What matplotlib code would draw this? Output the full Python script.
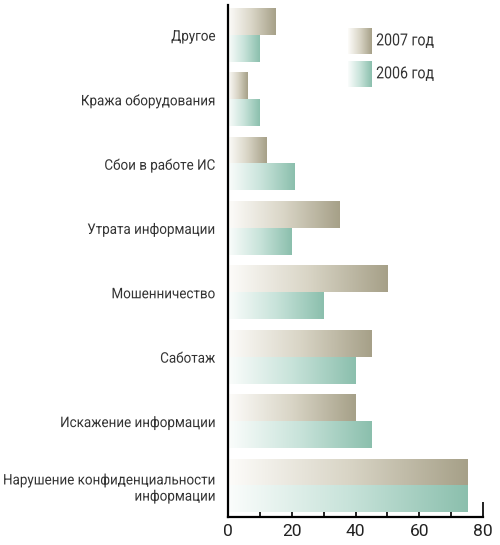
import numpy as np
import matplotlib
matplotlib.use('Agg')
from matplotlib import pyplot as plt
from matplotlib import patheffects
from matplotlib.colors import LinearSegmentedColormap
from matplotlib.transforms import Affine2D

plt.rcParams['font.family'] = ['Roboto', 'DejaVu Sans']

categories = ['Другое', 'Кража оборудования', 'Сбои в работе ИС', 'Утрата информации',
              'Мошенничество', 'Саботаж', 'Искажение информации',
              'Нарушение конфиденциальности\nинформации']
values_2007 = [15, 6, 12, 35, 50, 45, 40, 75]
values_2006 = [10, 10, 21, 20, 30, 40, 45, 75]
series_names = ['2007 год', '2006 год']
x_ticks = [0, 10, 20, 30, 40, 50, 60, 70, 80]

tan = LinearSegmentedColormap.from_list('tan', ['#fdfcfa', '#d9d5c6', '#a6a088'])
teal = LinearSegmentedColormap.from_list('teal', ['#fbfdfc', '#c8e3da', '#8bbfad'])
grad = np.linspace(0, 1, 256).reshape(1, -1)

BAR_H = 0.405


class Squeeze(patheffects.AbstractPathEffect):
    """squash text horizontally, a stand-in for a condensed font"""

    def __init__(self, sx, anchor='right'):
        super().__init__()
        self.sx = sx
        self.anchor = anchor

    def draw_path(self, renderer, gc, tpath, affine, rgbFace=None):
        ext = tpath.get_extents(affine)
        x0 = ext.x1 if self.anchor == 'right' else ext.x0
        squash = Affine2D().translate(-x0, 0).scale(self.sx, 1).translate(x0, 0)
        renderer.draw_path(gc, tpath, affine + squash, rgbFace)


fig = plt.figure(figsize=(5, 5.45), dpi=100)
ax = fig.add_axes([0.456, 0.051, 0.51, 0.94])


def gradient_bar(ax, y0, y1, width, cmap):
    ax.imshow(grad, cmap=cmap, aspect='auto', extent=[0, width, y1, y0],
              interpolation='bicubic', zorder=2)


for i, (v7, v6) in enumerate(zip(values_2007, values_2006)):
    gradient_bar(ax, i - BAR_H - 0.005, i - 0.005, v7, tan)
    gradient_bar(ax, i + 0.005, i + BAR_H + 0.005, v6, teal)

ax.set_xlim(0, 80)
ax.set_ylim(7.485, -0.47)

ax.spines['top'].set_visible(False)
ax.spines['right'].set_visible(False)
ax.spines['left'].set_linewidth(1.6)
ax.spines['bottom'].set_linewidth(1.6)
ax.spines['left'].set_zorder(5)

ax.set_xticks(x_ticks)
ax.set_xticklabels([str(t) if t % 20 == 0 else '' for t in x_ticks])
ax.xaxis.remove_overlapping_locs = False
ax.set_xticks([80], minor=True)
ax.tick_params(axis='x', which='major', direction='in', length=5, width=1.4,
               labelsize=12.5, pad=5, colors='#222222')
ax.tick_params(axis='x', which='minor', direction='in', length=11, width=1.4,
               color='#222222')

ax.set_yticks(range(len(categories)))
ax.set_yticklabels(categories, fontsize=10.5, color='#333333')
ax.tick_params(axis='y', direction='in', length=4, width=0.8, color='#999999', pad=9)
for lbl in ax.get_yticklabels():
    lbl.set_multialignment('right')
    lbl.set_path_effects([Squeeze(0.92, 'right')])

# legend
for k, (name, cmap) in enumerate(zip(series_names, [tan, teal])):
    lax = fig.add_axes([0.696, 0.901 - k * 0.0605, 0.048, 0.0477])
    lax.imshow(grad, cmap=cmap, aspect='auto', interpolation='bicubic')
    lax.axis('off')
    t = fig.text(0.752, 0.925 - k * 0.0605, name, fontsize=12, color='#333333',
                 va='center', ha='left')
    t.set_path_effects([Squeeze(0.85, 'left')])

fig.savefig('out.png', dpi=100)
